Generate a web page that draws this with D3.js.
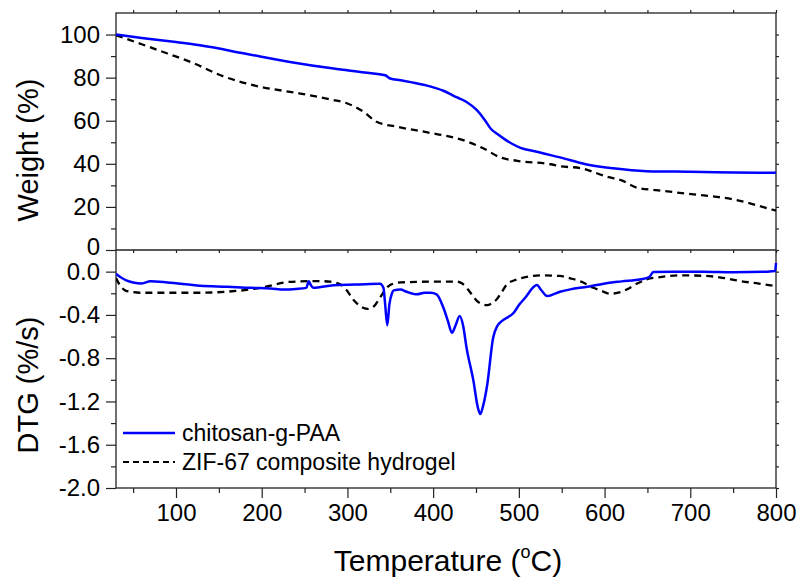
<!DOCTYPE html>
<html>
<head>
<meta charset="utf-8">
<script src="https://cdn.jsdelivr.net/npm/d3@7"></script>
<style>
  body { margin: 0; background: #fff; }
  text { font-family: "Liberation Sans", Arial, sans-serif; fill: #000; }
</style>
</head>
<body>
<svg id="chart" width="801" height="582"></svg>
<script>
// TGA weight curves (temperature in degC, weight in %)
const tgaBlueT = [30, 60, 100, 128, 180, 233, 284, 320, 344, 350, 362, 390, 412, 428, 439, 451, 460, 467, 475, 482, 492, 502, 521, 529, 548, 578, 610, 649, 700, 750, 800];
const tgaBlueW = [100, 98.4, 96.5, 95.0, 91.2, 87.3, 84.2, 82.4, 81.1, 79.6, 78.8, 76.6, 73.9, 70.8, 68.7, 64.9, 60.5, 56.4, 53.8, 51.8, 49.3, 47.4, 45.6, 44.8, 43.0, 39.8, 37.9, 36.6, 36.3, 36.0, 35.8];

const tgaBlackT = [30, 60, 90, 120, 152, 190, 245, 280, 300, 319, 334, 358, 396, 435, 459, 478, 498, 537, 548, 572, 603, 620, 638, 660, 704, 750, 780, 795, 800];
const tgaBlackW = [99.7, 95.5, 91.2, 86.8, 81.1, 76.5, 72.6, 69.9, 68.0, 64.1, 59.5, 57.2, 54.4, 51.0, 47.1, 43.0, 41.4, 39.8, 38.9, 38.0, 34.0, 32.3, 28.9, 27.8, 25.8, 23.5, 20.5, 18.8, 18.3];

// DTG curves (%/s)
const dtgBlueT = [30, 35, 42, 50, 60, 70, 90, 128, 160, 187, 210, 226, 240, 252, 255, 257, 260, 284, 310, 338, 342, 344, 346.5, 349, 352, 354, 362, 369, 381, 390, 397, 404, 412, 417, 422, 426, 431, 435, 439, 447, 452, 455, 458, 463, 470, 475, 480, 494, 501, 509, 515, 521, 526, 533, 548, 560, 580, 599, 620, 642, 652, 657, 680, 715, 750, 790, 799, 800];
const dtgBlueD = [-0.02, -0.05, -0.08, -0.10, -0.11, -0.09, -0.10, -0.13, -0.14, -0.15, -0.155, -0.165, -0.16, -0.15, -0.09, -0.12, -0.15, -0.125, -0.12, -0.112, -0.149, -0.30, -0.495, -0.30, -0.20, -0.173, -0.165, -0.186, -0.21, -0.195, -0.195, -0.21, -0.334, -0.45, -0.566, -0.50, -0.41, -0.50, -0.705, -1.01, -1.25, -1.317, -1.25, -1.05, -0.61, -0.50, -0.458, -0.38, -0.30, -0.226, -0.16, -0.124, -0.17, -0.226, -0.186, -0.164, -0.14, -0.111, -0.09, -0.071, -0.05, -0.003, 0, 0, -0.005, 0, 0.005, 0.08];

const dtgBlackT = [30, 35, 41, 50, 58, 90, 128, 160, 187, 210, 226, 245, 264, 280, 292, 298, 307, 315, 323, 331, 338, 343, 348, 354, 362, 396, 428, 434, 439, 445, 451, 457, 463, 469, 474, 480, 486, 495, 505, 525, 548, 560, 572, 587, 597, 606, 616, 626, 638, 649, 665, 688, 719, 740, 758, 780, 799];
const dtgBlackD = [-0.06, -0.13, -0.175, -0.19, -0.195, -0.195, -0.195, -0.185, -0.164, -0.13, -0.10, -0.09, -0.087, -0.093, -0.12, -0.16, -0.26, -0.32, -0.345, -0.32, -0.24, -0.18, -0.133, -0.11, -0.10, -0.093, -0.093, -0.11, -0.149, -0.21, -0.27, -0.30, -0.31, -0.29, -0.257, -0.19, -0.118, -0.08, -0.056, -0.034, -0.04, -0.062, -0.09, -0.149, -0.18, -0.204, -0.195, -0.164, -0.11, -0.071, -0.05, -0.034, -0.04, -0.06, -0.087, -0.11, -0.133];

const xTicks = [100, 200, 300, 400, 500, 600, 700, 800];
const xMinor = [50, 150, 250, 350, 450, 550, 650, 750];
const wTicks = [0, 20, 40, 60, 80, 100];
const wMinor = [10, 30, 50, 70, 90];
const dTicks = [-2.0, -1.6, -1.2, -0.8, -0.4, 0.0];
const dMinor = [-1.8, -1.4, -1.0, -0.6, -0.2];

const seriesNames = ["chitosan-g-PAA", "ZIF-67 composite hydrogel"];

const svg = d3.select("#chart");
const plotLeft = 116, plotRight = 776, plotTop = 13, plotMid = 250, plotBottom = 488;

const x = d3.scaleLinear().domain([30, 800]).range([plotLeft, plotRight]);
const yW = d3.scaleLinear().domain([0, 110]).range([plotMid, plotTop]);
const yD = d3.scaleLinear().domain([-2.0, 0.2]).range([plotBottom, plotMid]);

const axisColor = "#222";

// clip areas
const defs = svg.append("defs");
defs.append("clipPath").attr("id", "clipTop")
    .append("rect").attr("x", plotLeft).attr("y", plotTop).attr("width", plotRight - plotLeft).attr("height", plotMid - plotTop);
defs.append("clipPath").attr("id", "clipBot")
    .append("rect").attr("x", plotLeft).attr("y", plotMid).attr("width", plotRight - plotLeft + 2).attr("height", plotBottom - plotMid);

function styleAxis(g) {
    g.select(".domain").remove();
    g.selectAll("line").attr("stroke", axisColor).attr("stroke-width", 1.2);
    g.selectAll("text").attr("font-size", 24).attr("font-family", "Liberation Sans, Arial, sans-serif").attr("fill", "#000");
}

// left axes
svg.append("g").attr("transform", `translate(${plotLeft},0)`)
    .call(d3.axisLeft(yW).tickValues(wTicks).tickSize(10).tickPadding(6).tickFormat(d3.format("d")))
    .call(styleAxis)
    .call(g => g.selectAll("text").filter(d => d === 0).attr("dy", "0.2em"));
svg.append("g").attr("transform", `translate(${plotLeft},0)`)
    .call(d3.axisLeft(yW).tickValues(wMinor).tickSize(5).tickFormat(""))
    .call(styleAxis);
svg.append("g").attr("transform", `translate(${plotLeft},0)`)
    .call(d3.axisLeft(yD).tickValues(dTicks).tickSize(10).tickPadding(6).tickFormat(d => d.toFixed(1)))
    .call(styleAxis);
svg.append("g").attr("transform", `translate(${plotLeft},0)`)
    .call(d3.axisLeft(yD).tickValues(dMinor).tickSize(5).tickFormat(""))
    .call(styleAxis);

// right axes (small outward ticks)
svg.append("g").attr("transform", `translate(${plotRight},0)`)
    .call(d3.axisRight(yW).tickValues(wTicks.concat(wMinor)).tickSize(3).tickFormat(""))
    .call(styleAxis);
svg.append("g").attr("transform", `translate(${plotRight},0)`)
    .call(d3.axisRight(yD).tickValues(dTicks.concat(dMinor)).tickSize(3).tickFormat(""))
    .call(styleAxis);

// bottom axis
svg.append("g").attr("transform", `translate(0,${plotBottom})`)
    .call(d3.axisBottom(x).tickValues(xTicks).tickSize(10).tickPadding(6).tickFormat(d3.format("d")))
    .call(styleAxis);
svg.append("g").attr("transform", `translate(0,${plotBottom})`)
    .call(d3.axisBottom(x).tickValues(xMinor).tickSize(5).tickFormat(""))
    .call(styleAxis);

// middle and top small ticks
svg.append("g").attr("transform", `translate(0,${plotMid})`)
    .call(d3.axisBottom(x).tickValues(xTicks.concat(xMinor)).tickSize(3).tickFormat(""))
    .call(styleAxis);
svg.append("g").attr("transform", `translate(0,${plotTop})`)
    .call(d3.axisTop(x).tickValues(xTicks.concat(xMinor)).tickSize(3).tickFormat(""))
    .call(styleAxis);

// frames
const frame = svg.append("g").attr("fill", "none").attr("stroke", axisColor).attr("stroke-width", 1.3);
frame.append("rect").attr("x", plotLeft).attr("y", plotTop).attr("width", plotRight - plotLeft).attr("height", plotBottom - plotTop);
frame.append("line").attr("x1", plotLeft).attr("x2", plotRight).attr("y1", plotMid).attr("y2", plotMid);

// lines
const lineW = d3.line().x(d => x(d[0])).y(d => yW(d[1])).curve(d3.curveMonotoneX);
const lineD = d3.line().x(d => x(d[0])).y(d => yD(d[1])).curve(d3.curveMonotoneX);

const zip = (a, b) => a.map((v, i) => [v, b[i]]);

svg.append("path").datum(zip(tgaBlackT, tgaBlackW))
    .attr("clip-path", "url(#clipTop)")
    .attr("d", lineW).attr("fill", "none").attr("stroke", "#000")
    .attr("stroke-width", 2.3).attr("stroke-dasharray", "7,5");
svg.append("path").datum(zip(tgaBlueT, tgaBlueW))
    .attr("clip-path", "url(#clipTop)")
    .attr("d", lineW).attr("fill", "none").attr("stroke", "#0000ff").attr("stroke-width", 2.5);

svg.append("path").datum(zip(dtgBlackT, dtgBlackD))
    .attr("clip-path", "url(#clipBot)")
    .attr("d", lineD).attr("fill", "none").attr("stroke", "#000")
    .attr("stroke-width", 2.3).attr("stroke-dasharray", "7,5");
svg.append("path").datum(zip(dtgBlueT, dtgBlueD))
    .attr("clip-path", "url(#clipBot)")
    .attr("d", lineD).attr("fill", "none").attr("stroke", "#0000ff").attr("stroke-width", 2.5);

// axis titles
svg.append("text")
    .attr("transform", "translate(38,150) rotate(-90)")
    .attr("text-anchor", "middle").attr("font-size", 29)
    .text("Weight (%)");
svg.append("text")
    .attr("transform", "translate(38,385) rotate(-90)")
    .attr("text-anchor", "middle").attr("font-size", 29)
    .text("DTG (%/s)");
const xt = svg.append("text")
    .attr("x", 448).attr("y", 571)
    .attr("text-anchor", "middle").attr("font-size", 30);
xt.append("tspan").text("Temperature (");
xt.append("tspan").attr("font-size", 18).attr("dy", -13).text("o");
xt.append("tspan").attr("dy", 13).text("C)");

// legend
const legend = svg.append("g");
const legendY = [433, 462];
legend.append("line").attr("x1", 123).attr("x2", 175).attr("y1", legendY[0]).attr("y2", legendY[0])
    .attr("stroke", "#0000ff").attr("stroke-width", 2.5);
legend.append("line").attr("x1", 123).attr("x2", 175).attr("y1", legendY[1]).attr("y2", legendY[1])
    .attr("stroke", "#000").attr("stroke-width", 2).attr("stroke-dasharray", "6,4");
seriesNames.forEach((name, i) => {
    legend.append("text").attr("x", 182).attr("y", legendY[i]).attr("dy", "0.34em")
        .attr("font-size", 23).text(name);
});
</script>
</body>
</html>
